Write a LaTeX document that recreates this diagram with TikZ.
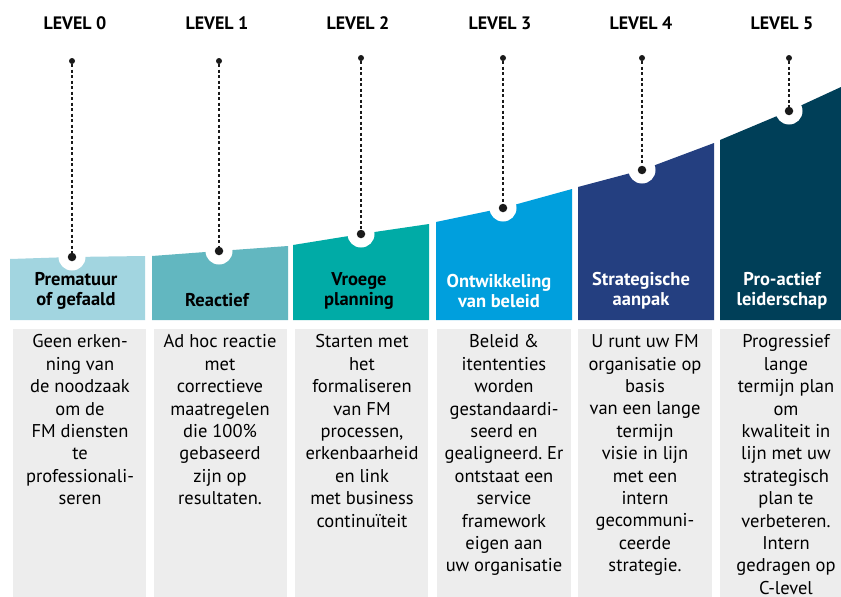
\documentclass[tikz,border=0pt]{standalone}
\usepackage{fontspec}
\setmainfont{PT Sans}
\frenchspacing
\definecolor{cA}{HTML}{A2D5E0}
\definecolor{cB}{HTML}{62B7C0}
\definecolor{cC}{HTML}{00ABA6}
\definecolor{cD}{HTML}{009FDD}
\definecolor{cE}{HTML}{243F80}
\definecolor{cF}{HTML}{003F58}
\definecolor{greybox}{HTML}{EDEDED}
\definecolor{dotcol}{HTML}{1A1A1A}
\tikzset{
  levellabel/.style={font=\fontsize{18}{20}\selectfont\bfseries, text=black, inner sep=0pt},
  headtext/.style={font=\fontsize{18.5}{20}\selectfont\bfseries, align=center, inner sep=0pt},
  bodytext/.style={font=\fontsize{18.5}{22.4}\selectfont, align=center, inner sep=0pt, anchor=north, text=black},
  bigdot/.style={circle, fill=dotcol, minimum size=8.5pt, inner sep=0pt},
  smalldot/.style={circle, fill=dotcol, minimum size=6pt, inner sep=0pt},
  dotline/.style={draw=dotcol, line width=1.3pt, dash pattern=on 3pt off 2.5pt},
  notch/.style={fill=white, draw=none}
}
\begin{document}
\begin{tikzpicture}[x=1pt,y=-1pt]
\useasboundingbox (0,0) rectangle (841,597);
\fill[white] (0,0) rectangle (841,597);
% colored columns
\foreach \xl/\xr/\yl/\yr/\col/\dx/\dy/\ty/\i in {
  10/145/259/256/cA/72/257/61/0,
  152/288/256/246/cB/219/251/61/1,
  293/429/245/224/cC/361/234/58/2,
  436/572/222/189/cD/503/208/58/3,
  578/714/187/143/cE/642/170/58/4,
  720/841/140/87/cF/789/111/58/5}
{
  \fill[\col] (\xl,320) -- (\xl,\yl) -- (\dx,\dy) -- (\xr,\yr) -- (\xr,320) -- cycle;
  \fill[notch] (\dx,\dy) circle (13.5);
  \node[smalldot] (top\i) at (\dx,\ty) {};
  \node[bigdot] (bot\i) at (\dx,\dy) {};
  \draw[dotline] (top\i) -- (bot\i);
}
% grey boxes
\foreach \xl/\xr in {13/146, 154/287, 295/428, 437/571, 578/712, 720/841}
  \fill[greybox] (\xl,329) rectangle (\xr,600);
% level labels
\node[levellabel] (lv0) at (75,23) {LEVEL 0};
\node[levellabel] (lv1) at (217,23) {LEVEL 1};
\node[levellabel] (lv2) at (358,23) {LEVEL 2};
\node[levellabel] (lv3) at (500,23) {LEVEL 3};
\node[levellabel] (lv4) at (641,23) {LEVEL 4};
\node[levellabel] (lv5) at (782,23) {LEVEL 5};
% headers
\node[headtext, text=black] (h0) at (76,291) {Prematuur\\of gefaald};
\node[headtext, text=black] (h1) at (217,300) {Reactief};
\node[headtext, text=black] (h2) at (359,291) {Vroege\\planning};
\node[headtext, text=white] (h3) at (499,291) {Ontwikkeling\\van beleid};
\node[headtext, text=white] (h4) at (641,291) {Strategische\\aanpak};
\node[headtext, text=white] (h5) at (782,291) {Pro-actief\\leiderschap};
% body texts
\node[bodytext] (b0) at (80,334.5) {Geen erken-\\ning van\\de noodzaak\\om de\\FM diensten\\te\\professionali-\\seren};
\node[bodytext] (b1) at (220,334.5) {Ad hoc reactie\\met\\correctieve\\maatregelen\\die 100\%\\gebaseerd\\zijn op\\resultaten.};
\node[bodytext] (b2) at (362,334.5) {Starten met\\het\\formaliseren\\van FM\\processen,\\erkenbaarheid\\en link\\met business\\continuïteit};
\node[bodytext] (b3) at (504,334.5) {Beleid \&\\itententies\\worden\\gestandaardi-\\seerd en\\gealigneerd. Er\\ontstaat een\\service\\framework\\eigen aan\\uw organisatie};
\node[bodytext] (b4) at (645,334.5) {U runt uw FM\\organisatie op\\basis\\van een lange\\termijn\\visie in lijn\\met een\\intern\\gecommuni-\\ceerde\\strategie.};
\node[bodytext] (b5) at (786,334.5) {Progressief\\lange\\termijn plan\\om\\kwaliteit in\\lijn met uw\\strategisch\\plan te\\verbeteren.\\Intern\\gedragen op\\C-level};
\end{tikzpicture}
\end{document}
